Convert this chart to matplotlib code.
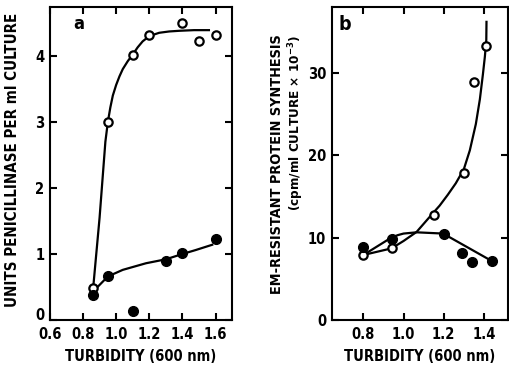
import matplotlib
matplotlib.use("Agg")
import matplotlib.pyplot as plt
from matplotlib import font_manager

# prefer a narrow bold face, like the typeset original
fonts = font_manager.fontManager.ttflist
names = {f.name for f in fonts}
FONT = "DejaVu Sans"
if "Liberation Sans Narrow" in names:
    FONT = "Liberation Sans Narrow"
elif any(f.name == "DejaVu Sans" and f.stretch == "condensed" for f in fonts):
    plt.rcParams["font.stretch"] = "condensed"
else:
    cond = sorted(n for n in names if "Condensed" in n or "Narrow" in n)
    if cond:
        FONT = cond[0]
plt.rcParams["font.family"] = [FONT, "DejaVu Sans"]
plt.rcParams["font.weight"] = "bold"
plt.rcParams["axes.labelweight"] = "bold"

# panel a: penicillinase units vs turbidity
a_open_x = [0.86, 0.95, 1.10, 1.20, 1.40, 1.50, 1.60]
a_open_y = [0.48, 3.00, 4.02, 4.32, 4.50, 4.22, 4.32]
a_fill_x = [0.86, 0.95, 1.10, 1.30, 1.40, 1.60]
a_fill_y = [0.38, 0.66, 0.13, 0.90, 1.02, 1.22]
# hand-drawn fitted curves
a_open_cx = [0.86, 0.90, 0.935, 0.95, 0.965, 0.98, 1.00, 1.02, 1.04, 1.07, 1.10, 1.13,
             1.16, 1.20, 1.26, 1.32, 1.38, 1.47, 1.56]
a_open_cy = [0.45, 1.55, 2.70, 3.00, 3.22, 3.40, 3.56, 3.69, 3.80, 3.92, 4.02, 4.13,
             4.22, 4.30, 4.35, 4.37, 4.38, 4.39, 4.39]
a_fill_cx = [0.86, 0.95, 1.04, 1.18, 1.30, 1.40, 1.48, 1.58]
a_fill_cy = [0.43, 0.66, 0.76, 0.86, 0.92, 1.00, 1.06, 1.14]

# panel b: EM-resistant protein synthesis vs turbidity
b_open_x = [0.80, 0.94, 1.15, 1.30, 1.35, 1.41]
b_open_y = [7.9, 8.7, 12.8, 17.9, 28.9, 33.3]
b_fill_x = [0.80, 0.94, 1.20, 1.29, 1.34, 1.44]
b_fill_y = [8.9, 9.9, 10.4, 8.2, 7.0, 7.2]
b_open_cx = [0.80, 0.94, 1.00, 1.065, 1.14, 1.18, 1.22, 1.26, 1.30, 1.33, 1.36, 1.38,
             1.395, 1.405, 1.412, 1.413]
b_open_cy = [7.9, 8.7, 9.6, 10.7, 12.8, 13.9, 15.2, 16.6, 18.3, 20.6, 23.8, 26.8,
             29.8, 32.0, 34.0, 36.2]
b_fill_cx = [0.80, 0.932, 0.97, 1.00, 1.065, 1.197, 1.437]
b_fill_cy = [7.9, 9.9, 10.3, 10.5, 10.65, 10.5, 7.2]

fig = plt.figure(figsize=(5.09, 3.70), dpi=100)
ax_a = fig.add_axes([0.098, 0.135, 0.358, 0.846])
ax_b = fig.add_axes([0.652, 0.135, 0.346, 0.846])

for ax in (ax_a, ax_b):
    for s in ax.spines.values():
        s.set_linewidth(1.5)
    ax.tick_params(direction="in", top=True, right=True, length=5, width=1.5,
                   labelsize=10.5)
    ax.tick_params(axis="x", pad=5)
    ax.tick_params(axis="y", pad=4)

# panel a
ax_a.plot(a_open_cx, a_open_cy, color="black", lw=1.6, zorder=2)
ax_a.plot(a_fill_cx, a_fill_cy, color="black", lw=1.6, zorder=2)
ax_a.plot(a_open_x, a_open_y, "o", ms=6, mfc="white", mec="black", mew=1.6, zorder=3)
ax_a.plot(a_fill_x, a_fill_y, "o", ms=7, mfc="black", mec="black", zorder=3)
ax_a.set_xlim(0.6, 1.7)
ax_a.set_ylim(0, 4.74)
ax_a.set_xticks([0.6, 0.8, 1.0, 1.2, 1.4, 1.6])
ax_a.set_xticklabels(["0.6", "0.8", "1.0", "1.2", "1.4", "1.6"])
ax_a.set_yticks([0, 1, 2, 3, 4])
ax_a.set_yticklabels(["0", "1", "2", "3", "4"])
ax_a.get_yticklabels()[0].set_va("baseline")
ax_a.set_xlabel("TURBIDITY (600 nm)", fontsize=10.5, labelpad=5)
ax_a.text(0.16, 0.945, "a", transform=ax_a.transAxes, fontsize=13, ha="center", va="center")

# panel b
ax_b.plot(b_open_cx, b_open_cy, color="black", lw=1.6, zorder=2)
ax_b.plot(b_fill_cx, b_fill_cy, color="black", lw=1.6, zorder=2)
ax_b.plot(b_open_x, b_open_y, "o", ms=6, mfc="white", mec="black", mew=1.6, zorder=3)
ax_b.plot(b_fill_x, b_fill_y, "o", ms=7, mfc="black", mec="black", zorder=3)
ax_b.set_xlim(0.643, 1.52)
ax_b.set_ylim(0, 38)
ax_b.set_xticks([0.8, 1.0, 1.2, 1.4])
ax_b.set_xticklabels(["0.8", "1.0", "1.2", "1.4"])
ax_b.set_yticks([0, 10, 20, 30])
ax_b.set_xlabel("TURBIDITY (600 nm)", fontsize=10.5, labelpad=5)
ax_b.text(0.04, 0.945, "b", transform=ax_b.transAxes, fontsize=14, ha="left", va="center")

fig.text(13 / 509, 0.568, "UNITS PENICILLINASE PER ml CULTURE", rotation=90,
         ha="center", va="center", fontsize=10.8)
fig.text(277 / 509, 0.557, "EM-RESISTANT PROTEIN SYNTHESIS", rotation=90,
         ha="center", va="center", fontsize=10.4)
fig.text(296 / 509, 0.667, "(cpm/ml CULTURE \u00d7 10$^{-3}$)", rotation=90,
         ha="center", va="center", fontsize=9.6)

fig.savefig("out.png", dpi=100)
